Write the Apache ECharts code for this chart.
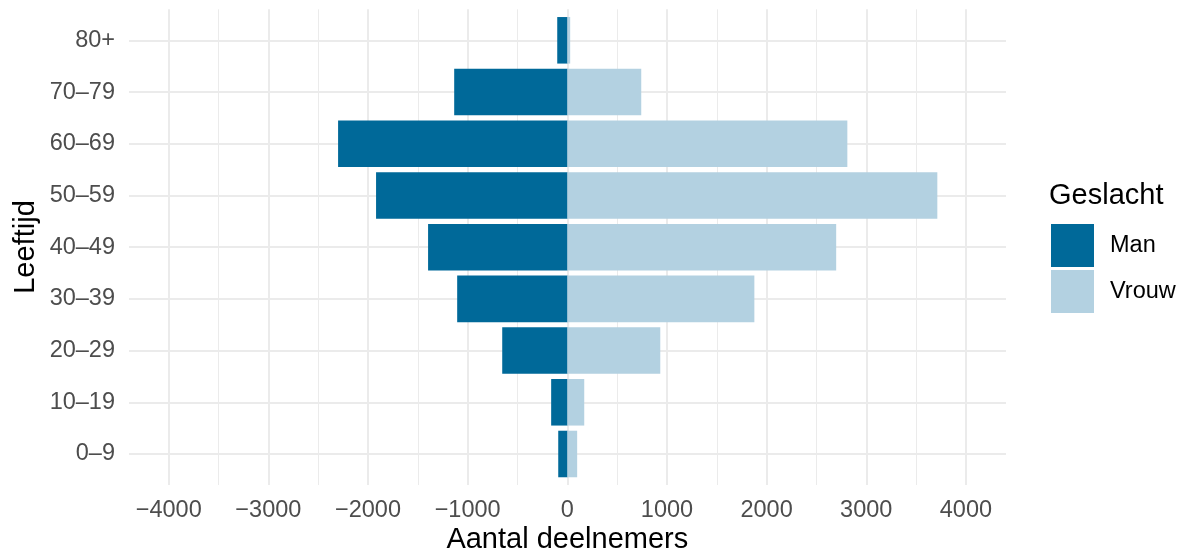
<!DOCTYPE html>
<html>
<head>
<meta charset="utf-8">
<script src="https://cdn.jsdelivr.net/npm/echarts@6/dist/echarts.min.js"></script>
<style>
html,body{margin:0;padding:0;background:#fff;}
#chart{width:1185px;height:556px;}
</style>
</head>
<body>
<div id="chart"></div>
<script>
const categories = ['0–9','10–19','20–29','30–39','40–49','50–59','60–69','70–79','80+'];
const man = [-93, -164, -655, -1107, -1399, -1921, -2302, -1137, -103];
const vrouw = [97, 168, 931, 1875, 2696, 3711, 2808, 740, 27];
const seriesNames = ['Man', 'Vrouw'];
const xTitle = 'Aantal deelnemers';
const yTitle = 'Leeftijd';
const legendTitle = 'Geslacht';

const FONT = '"Liberation Sans", Arial, sans-serif';
const GRID = '#EBEBEB';
const chart = echarts.init(document.getElementById('chart'), null, {renderer: 'canvas'});
const fmt = v => v < 0 ? '\u2212' + Math.abs(v) : String(v);

chart.setOption({
  animation: false,
  backgroundColor: '#fff',
  textStyle: {fontFamily: FONT},
  grid: [
    {left: 129, right: 179, top: 14.45, bottom: 76.15, containLabel: false},
    {left: 168.7, right: 219.1, top: 9.3, bottom: 71, containLabel: false},
    {left: 129, right: 179, top: 40.3, bottom: 102, containLabel: false}
  ],
  xAxis: [
    {gridIndex: 0, type: 'value', min: -4400, max: 4400, show: false},
    {gridIndex: 1, type: 'value', min: -4000, max: 4000, interval: 1000,
      axisLine: {show: false}, axisTick: {show: false},
      axisLabel: {formatter: fmt, color: '#4D4D4D', fontSize: 23.5, fontFamily: FONT, margin: 14},
      splitLine: {show: true, lineStyle: {color: GRID, width: 2}},
      minorTick: {show: false, splitNumber: 2},
      minorSplitLine: {show: true, lineStyle: {color: GRID, width: 1}}
    },
    {gridIndex: 2, type: 'value', show: false}
  ],
  yAxis: [
    {gridIndex: 0, type: 'category', data: categories,
      axisLine: {show: false}, axisTick: {show: false}, splitLine: {show: false},
      axisLabel: {color: '#4D4D4D', fontSize: 23.5, fontFamily: FONT, margin: 14, padding: [4, 0, 0, 0]}
    },
    {gridIndex: 1, type: 'value', show: false},
    {gridIndex: 2, type: 'category', data: categories, boundaryGap: false,
      axisLine: {show: false}, axisTick: {show: false}, axisLabel: {show: false},
      splitLine: {show: true, lineStyle: {color: GRID, width: 2}}
    }
  ],
  legend: {
    orient: 'vertical', left: 1051, top: 224, padding: 0,
    itemWidth: 43, itemHeight: 43, itemGap: 3,
    icon: 'rect',
    data: seriesNames,
    textStyle: {fontSize: 23.5, color: '#000', fontFamily: FONT, padding: [4, 0, 0, 11]}
  },
  graphic: [
    {type: 'text', x: 567.3, y: 539.5, z: 10,
      style: {text: xTitle, fill: '#000', font: '29px ' + FONT, textAlign: 'center', textVerticalAlign: 'middle', align: 'center', verticalAlign: 'middle'}},
    {type: 'text', x: 25.8, y: 247, rotation: Math.PI / 2, z: 10,
      style: {text: yTitle, fill: '#000', font: '29px ' + FONT, textAlign: 'center', textVerticalAlign: 'middle', align: 'center', verticalAlign: 'middle'}},
    {type: 'text', x: 1049, y: 195.7, z: 10,
      style: {text: legendTitle, fill: '#000', font: '29px ' + FONT, textAlign: 'left', textVerticalAlign: 'middle', align: 'left', verticalAlign: 'middle'}}
  ],
  series: [
    {name: seriesNames[0], type: 'bar', xAxisIndex: 0, yAxisIndex: 0, stack: 'pop',
      barCategoryGap: '10%', data: man, itemStyle: {color: '#006999'}, z: 5},
    {name: seriesNames[1], type: 'bar', xAxisIndex: 0, yAxisIndex: 0, stack: 'pop',
      barCategoryGap: '10%', data: vrouw, itemStyle: {color: '#B3D1E1'}, z: 5}
  ]
});
</script>
</body>
</html>
